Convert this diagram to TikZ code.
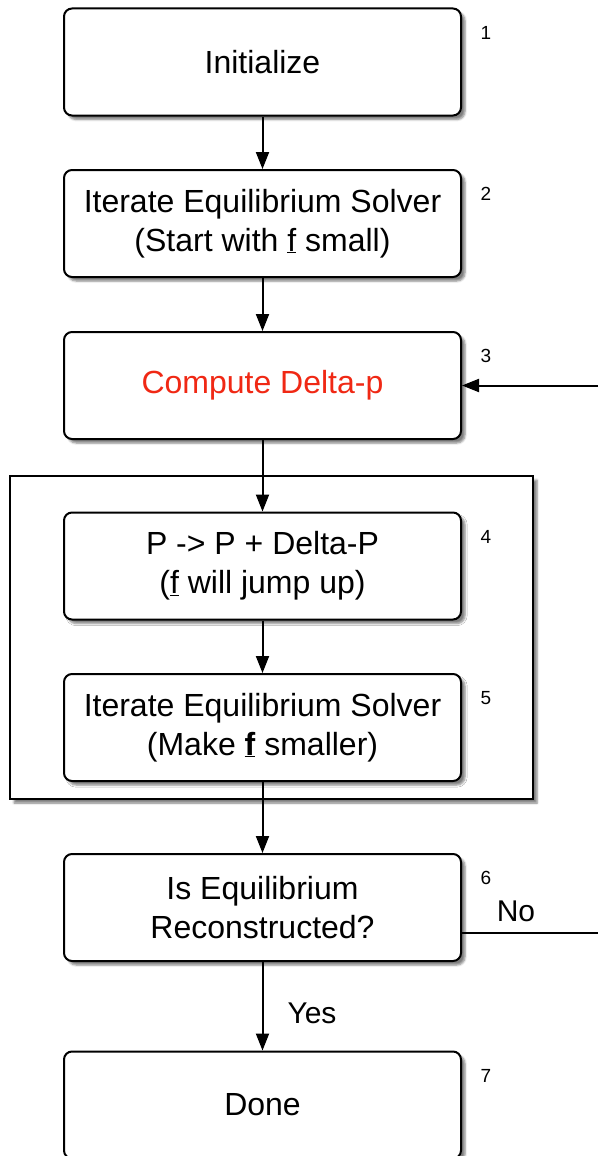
\documentclass[tikz,border=0pt]{standalone}
\usepackage{fontspec}
\setmainfont{Liberation Sans}
\usetikzlibrary{arrows.meta,shadows,shadows.blur,calc}
\definecolor{stepred}{RGB}{240,40,20}
\begin{document}
\begin{tikzpicture}[x=1pt,y=1pt,
  stepbox/.style={draw, line width=2pt, rounded corners=8pt, fill=white,
    minimum width=397pt, minimum height=107pt, align=center,
    font=\fontsize{32}{39}\selectfont, inner sep=0pt,
    blur shadow={shadow xshift=4pt, shadow yshift=-4pt, shadow blur steps=5, shadow opacity=50}},
  framebox/.style={draw, line width=2pt, fill=white,
    blur shadow={shadow xshift=4pt, shadow yshift=-4pt, shadow blur steps=5, shadow opacity=50}},
  flow/.style={line width=2pt, -{Triangle[length=17pt,width=13pt]}},
  plainline/.style={line width=2pt},
  numlabel/.style={font=\fontsize{19}{22}\selectfont, anchor=center},
  edgelabel/.style={font=\fontsize{30}{36}\selectfont}
]
\useasboundingbox (0,0) rectangle (598,-1156);
% frame around steps 4 and 5
\node[framebox, minimum width=523pt, minimum height=323pt, inner sep=0pt] (frame) at (271.5,-637.5) {};

\node[stepbox] (b1) at (262.5,-62) {Initialize};
\node[stepbox] (b2) at (262.5,-223.5) {Iterate Equilibrium Solver\\(Start with \underline{f} small)};
\node[stepbox] (b3) at (262.5,-385.5) {\textcolor{stepred}{Compute Delta-p}};
\node[stepbox] (b4) at (262.5,-566) {P -> P + Delta-P\\(\underline{f} will jump up)};
\node[stepbox] (b5) at (262.5,-727.5) {Iterate Equilibrium Solver\\(Make \underline{\textbf{f}} smaller)};
\node[stepbox] (b6) at (262.5,-907.5) {Is Equilibrium\\Reconstructed?};
\node[stepbox] (b7) at (262.5,-1105) {Done};

\foreach \b/\n in {b1/1,b2/2,b3/3,b4/4,b5/5,b6/6,b7/7}
  \node[numlabel] (n\n) at ($(\b.north east)+(24,-25)$) {\n};

\draw[flow] (b1) -- (b2);
\draw[flow] (b2) -- (b3);
\draw[flow] (b3) -- (b4);
\draw[flow] (b4) -- (b5);
\draw[flow] (b5) -- (b6);
\draw[flow] (b6) -- (b7);
\node[edgelabel] (yes) at (312,-1013) {Yes};

\coordinate (loopin) at (598,-385.5);
\coordinate (loopout) at (598,-933);
\draw[flow] (loopin) -- (b3.east);
\draw[plainline] (b6.east |- loopout) -- (loopout);
\node[edgelabel] (no) at (516,-911) {No};
\end{tikzpicture}
\end{document}
